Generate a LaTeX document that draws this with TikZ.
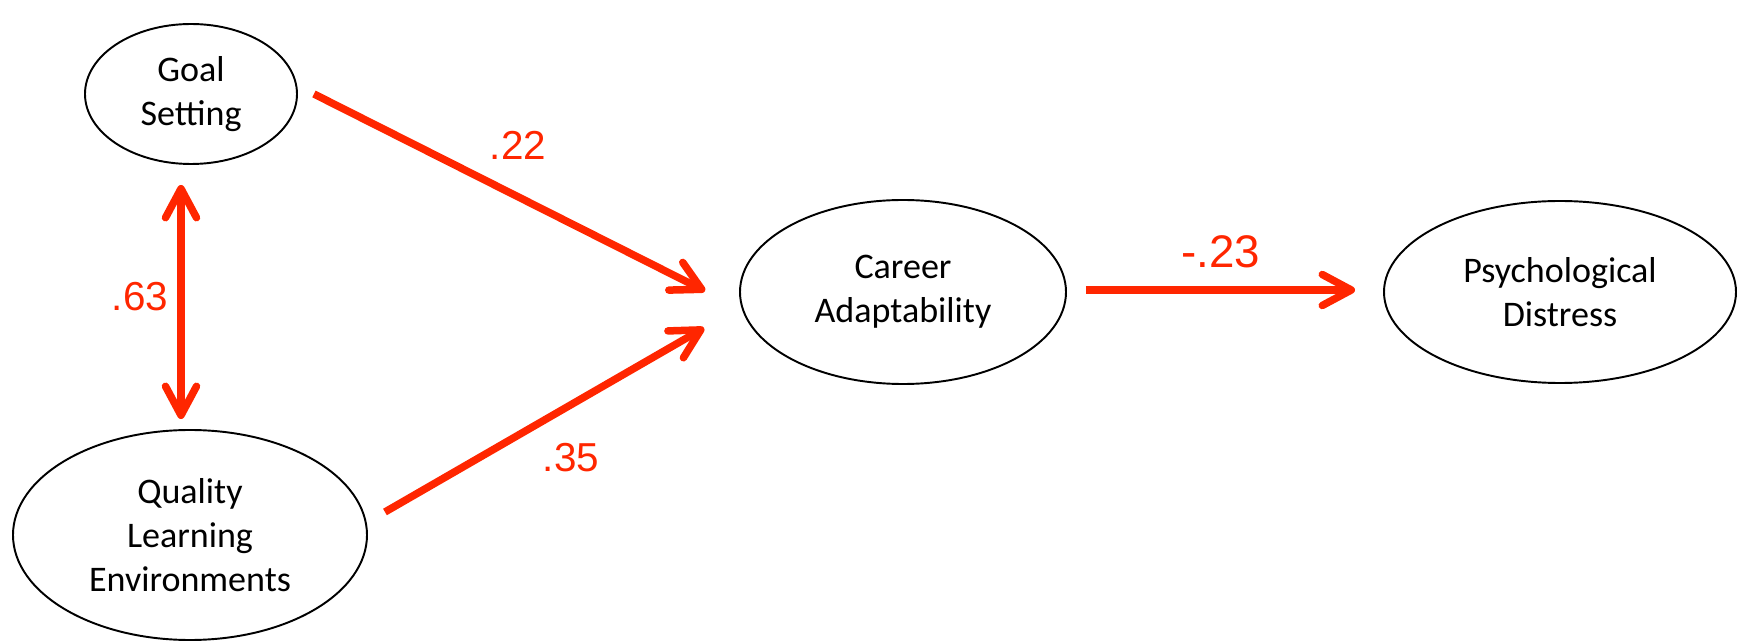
\documentclass[tikz,border=0pt]{standalone}
\usepackage{fontspec}
\setmainfont{Carlito}
\newfontfamily\coeffont{Liberation Sans}
\usetikzlibrary{arrows.meta,shapes.geometric}
\definecolor{pathred}{RGB}{255,38,0}

\tikzset{
    latent/.style={ellipse, draw, line width=1.1pt, align=center, inner sep=0pt,
        font=\fontsize{20.5}{25}\selectfont},
    effect/.style={draw=pathred, line width=0.15cm},
    coef/.style={text=pathred, font=\coeffont\fontsize{23}{27}\selectfont}
}

\begin{document}
\begin{tikzpicture}[>={Straight Barb[length=0.58cm,width=0.62cm,round]}]
    \useasboundingbox (0,0) rectangle (34.8,12.84);

    % Nodes {goal, qle, career, distress}
    \node [latent, minimum width=4.24cm, minimum height=2.8cm]  (goal)     at (3.82,10.96) {Goal\\Setting};
    \node [latent, minimum width=7.08cm, minimum height=4.2cm]  (qle)      at (3.80,2.14)  {Quality\\Learning\\Environments};
    \node [latent, minimum width=6.52cm, minimum height=3.68cm] (career)   at (18.06,7.0)  {Career\\Adaptability};
    \node [latent, minimum width=7.04cm, minimum height=3.64cm] (distress) at (31.2,7.0)   {Psychological\\Distress};

    % Paths
    \draw [effect, <->] ([xshift=-0.2cm, yshift=-0.4cm]goal.south) -- ([xshift=-0.18cm, yshift=0.2cm]qle.north);
    \draw [effect, ->]  ([xshift=0.32cm]goal.east) -- ([xshift=-0.68cm, yshift=0.02cm]career.west);
    \draw [effect, ->]  ([xshift=0.34cm, yshift=0.46cm]qle.east) -- ([xshift=-0.7cm, yshift=-0.72cm]career.west);
    \draw [effect, ->]  ([xshift=0.38cm, yshift=0.04cm]career.east) -- ([xshift=-0.56cm, yshift=0.04cm]distress.west);

    % Coefficients
    \node [coef] (c63) at (2.80,6.90)  {.63};
    \node [coef] (c22) at (10.36,9.94) {.22};
    \node [coef] (c35) at (11.42,3.68) {.35};
    \node [coef, font=\coeffont\fontsize{26}{30}\selectfont] (c23) at (24.42,7.80) {-.23};
\end{tikzpicture}
\end{document}
